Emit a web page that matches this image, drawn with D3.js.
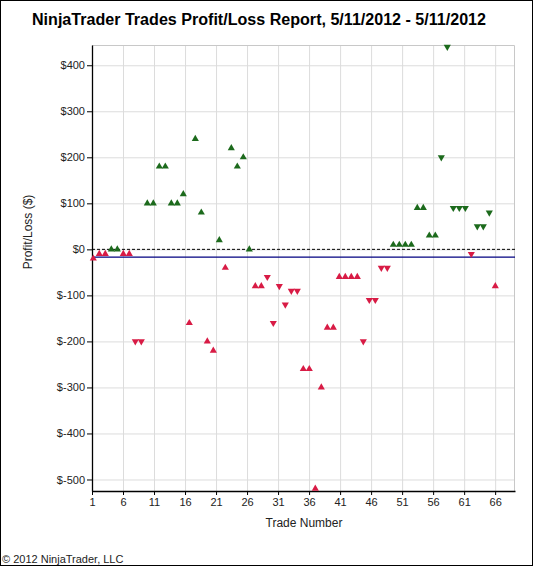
<!DOCTYPE html>
<html>
<head>
<meta charset="utf-8">
<script src="https://cdn.jsdelivr.net/npm/d3@7"></script>
<style>
  body { margin: 0; background: #fff; }
  text { font-family: Arial, "Liberation Sans", sans-serif; }
</style>
</head>
<body>
<div id="chart"></div>
<script>
// trade results, one entry per trade
const trades = d3.range(1, 69);
const profit = [
  -20, -10, -10, 0, 0, -10, -10, -200, -200, 100,
  100, 180, 180, 100, 100, 120, -160, 240, 80, -200,
  -220, 20, -40, 220, 180, 200, 0, -80, -80, -60,
  -160, -80, -120, -90, -90, -260, -260, -520, -300, -170,
  -170, -60, -60, -60, -60, -200, -110, -110, -40, -40,
  10, 10, 10, 10, 90, 90, 30, 30, 200, 440,
  90, 90, 90, -10, 50, 50, 80, -80
];
// L = long (up triangle), S = short (down triangle)
const side = [
  "L","L","L","L","L","L","L","S","S","L",
  "L","L","L","L","L","L","L","L","L","L",
  "L","L","L","L","L","L","L","L","L","S",
  "S","S","S","S","S","L","L","L","L","L",
  "L","L","L","L","L","S","S","S","S","S",
  "L","L","L","L","L","L","L","L","S","S",
  "S","S","S","S","S","S","S","L"
];
const xTicks = d3.range(1, 67, 5);
const yTicks = d3.range(-500, 401, 100);

const width = 535;
const height = 567;
const plot = {left: 92, right: 515, top: 45, bottom: 491};

const data = trades.map((t, i) => ({trade: t, pl: profit[i], side: side[i]}));

const svg = d3.select("#chart")
  .append("svg")
  .attr("width", width)
  .attr("height", height);

// frame round the whole report
svg.append("rect")
  .attr("x", 0.5).attr("y", 0.5)
  .attr("width", 532).attr("height", 565)
  .attr("fill", "#fff")
  .attr("stroke", "#000");

// scales
const yScale = d3.scaleLinear()
  .domain([-525, 444])
  .range([plot.bottom, plot.top]);

const xAxisScale = d3.scaleLinear()
  .domain([1, 69.2])
  .range([plot.left, plot.right]);

// markers are spaced on their own grid
const xScale = d3.scalePoint()
  .domain(trades)
  .range([93.3, 495.3]);

// grid
svg.append("g")
  .attr("transform", `translate(${plot.left},0)`)
  .call(d3.axisLeft(yScale).tickValues(yTicks).tickSize(-(plot.right - plot.left)).tickFormat(""))
  .call(g => g.select(".domain").remove())
  .selectAll("line").attr("stroke", "#dcdcdc");

svg.append("g")
  .attr("transform", `translate(0,${plot.bottom})`)
  .call(d3.axisBottom(xAxisScale).tickValues(xTicks).tickSize(-(plot.bottom - plot.top)).tickFormat(""))
  .call(g => g.select(".domain").remove())
  .selectAll("line").attr("stroke", "#dcdcdc");

// top and right edges of the plot
svg.append("path")
  .attr("d", `M${plot.left},${plot.top + 0.5}H${plot.right - 0.5}V${plot.bottom}`)
  .attr("fill", "none")
  .attr("stroke", "#c8c8c8");

// zero line and average line
svg.append("line")
  .attr("x1", plot.left).attr("x2", plot.right)
  .attr("y1", yScale(0)).attr("y2", yScale(0))
  .attr("stroke", "#000")
  .attr("stroke-dasharray", "3,2");

const avg = d3.mean(profit);
svg.append("line")
  .attr("x1", plot.left).attr("x2", plot.right)
  .attr("y1", yScale(avg)).attr("y2", yScale(avg))
  .attr("stroke", "#000080")
  .attr("stroke-width", 1.2);

// axes
const yAxis = svg.append("g")
  .attr("transform", `translate(${plot.left},0)`)
  .call(d3.axisLeft(yScale).tickValues(yTicks).tickSize(5).tickSizeOuter(0).tickPadding(2)
    .tickFormat(d => "$" + d));

const xAxis = svg.append("g")
  .attr("transform", `translate(0,${plot.bottom})`)
  .call(d3.axisBottom(xAxisScale).tickValues(xTicks).tickSize(4).tickSizeOuter(0).tickPadding(3));

[yAxis, xAxis].forEach(g => {
  g.attr("font-family", "Arial, 'Liberation Sans', sans-serif")
   .attr("font-size", "11px");
  g.selectAll("text").attr("fill", "#222");
  g.select(".domain").attr("stroke", "#000").attr("stroke-width", 1.3);
});

// trade markers
const symbol = d3.symbol().type(d3.symbolTriangle).size(22);

svg.selectAll(".trade")
  .data(data)
  .enter()
  .append("path")
    .attr("class", "trade")
    .attr("d", symbol)
    .attr("transform", d => `translate(${xScale(d.trade)},${yScale(d.pl)}) rotate(${d.side === "S" ? 180 : 0})`)
    .attr("fill", d => d.pl >= 0 ? "#1c6a1c" : "#d81b45");

// texts
svg.append("text")
  .attr("x", 259).attr("y", 25)
  .attr("text-anchor", "middle")
  .attr("font-size", "16px")
  .attr("font-weight", "bold")
  .attr("textLength", 454)
  .attr("lengthAdjust", "spacingAndGlyphs")
  .text("NinjaTrader Trades Profit/Loss Report, 5/11/2012 - 5/11/2012");

svg.append("text")
  .attr("transform", "translate(32,232) rotate(-90)")
  .attr("text-anchor", "middle")
  .attr("font-size", "12px")
  .attr("fill", "#222")
  .text("Profit/Loss ($)");

svg.append("text")
  .attr("x", 304).attr("y", 527)
  .attr("text-anchor", "middle")
  .attr("font-size", "12px")
  .attr("fill", "#222")
  .text("Trade Number");

svg.append("text")
  .attr("x", 2).attr("y", 563)
  .attr("font-size", "11px")
  .attr("fill", "#222")
  .text("© 2012 NinjaTrader, LLC");
</script>
</body>
</html>
